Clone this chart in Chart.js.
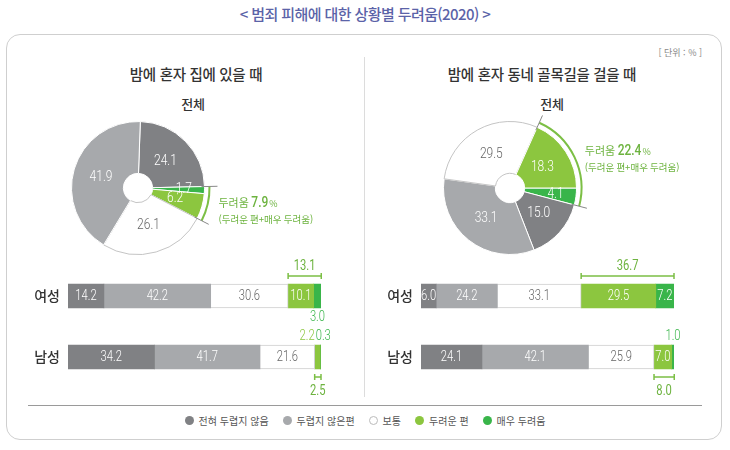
<!DOCTYPE html>
<html lang="ko">
<head>
<meta charset="UTF-8" />
<title>범죄 피해에 대한 상황별 두려움(2020)</title>
<script src="https://cdn.jsdelivr.net/npm/chart.js@4"></script>
<style>
    body { margin: 0; background: #fff; font-family: 'Noto Sans CJK KR', sans-serif; }
    .wrap { position: relative; width: 730px; height: 450px; overflow: hidden; }
    .title {
        position: absolute; top: 3px; left: 0; width: 730px; text-align: center;
        font-size: 15px; line-height: 22px; color: #5b63a8; letter-spacing: -0.6px; font-weight: 500;
    }
    .panel {
        position: absolute; left: 6px; top: 34px; width: 714px; height: 404px;
        border: 1.5px solid #cfcfcf; border-radius: 14px;
    }
    .divider { position: absolute; left: 364px; top: 57px; width: 1px; height: 340px; background: #dcdcdc; }
    .rule { position: absolute; left: 28px; top: 405px; width: 674px; height: 1px; background: #9a9a9a; }
    .unit { position: absolute; left: 640px; top: 46px; width: 62px; text-align: right; font-size: 9px; line-height: 14px; color: #888; }
    .sub {
        position: absolute; width: 300px; text-align: center; font-size: 14.5px; line-height: 20px;
        color: #333; font-weight: 500; letter-spacing: -0.3px;
    }
    .sub.all { font-size: 13px; font-weight: 500; }
    canvas { position: absolute; }
    .legend {
        position: absolute; left: 0; top: 412px; width: 730px; height: 16px;
        display: flex; justify-content: center; align-items: center; gap: 14px;
        font-size: 10px; color: #555;
    }
    .legend span { display: flex; align-items: center; }
    .legend i { display: inline-block; width: 9px; height: 9px; border-radius: 50%; margin-right: 5px; box-sizing: border-box; }
</style>
</head>
<body>
<div class="wrap">
    <div class="title">&lt; 범죄 피해에 대한 상황별 두려움(2020) &gt;</div>
    <div class="panel"></div>
    <div class="divider"></div>
    <div class="rule"></div>
    <div class="unit">[ 단위 : % ]</div>

    <div class="sub" style="left:46px; top:64px;">밤에 혼자 집에 있을 때</div>
    <div class="sub all" style="left:43px; top:94px;">전체</div>
    <div class="sub" style="left:392px; top:64px;">밤에 혼자 동네 골목길을 걸을 때</div>
    <div class="sub all" style="left:402px; top:94px;">전체</div>

    <canvas id="pieHome" width="320" height="170" style="left:40px; top:100px;"></canvas>
    <canvas id="pieStreet" width="320" height="170" style="left:400px; top:100px;"></canvas>
    <canvas id="barHome" width="340" height="145" style="left:20px; top:255px;"></canvas>
    <canvas id="barStreet" width="350" height="145" style="left:370px; top:255px;"></canvas>

    <div class="legend" id="legend"></div>
</div>

<script>
    // categories (answer scale) and colours
    const categories = ['전혀 두렵지 않음', '두렵지 않은편', '보통', '두려운 편', '매우 두려움'];
    const colors = ['#808184', '#a7a9ac', '#ffffff', '#8cc63f', '#39b54a'];
    const groups = ['여성', '남성'];

    // 전체 values, in category order
    const homeTotal = [24.1, 41.9, 26.1, 6.2, 1.7];
    const streetTotal = [15.0, 33.1, 29.5, 18.3, 4.1];

    // by sex, in category order
    const homeFemale = [14.2, 42.2, 30.6, 10.1, 3.0];
    const homeMale = [34.2, 41.7, 21.6, 2.2, 0.3];
    const streetFemale = [6.0, 24.2, 33.1, 29.5, 7.2];
    const streetMale = [24.1, 42.1, 25.9, 7.0, 1.0];

    const green = '#6db33f';
    const krFont = (size, weight) => `${weight || 400} ${size}px "Noto Sans CJK KR", sans-serif`;

    // condensed numbers: Roboto squeezed horizontally
    function drawNum(ctx, text, x, y, align, size, weight) {
        ctx.save();
        ctx.font = `${weight || 300} ${size || 14}px Roboto, sans-serif`;
        ctx.textAlign = align || 'center';
        ctx.translate(x, y);
        ctx.scale(0.8, 1);
        ctx.fillText(text, 0, 0);
        const w = ctx.measureText(text).width * 0.8;
        ctx.restore();
        return w;
    }

    // slice labels + green bracket with the 두려움 total
    const pieNote = {
        id: 'pieNote',
        afterDatasetsDraw(chart) {
            const ctx = chart.ctx;
            const ds = chart.data.datasets[0];
            const cats = ds.cats;
            const arcs = chart.getDatasetMeta(0).data.map(a =>
                a.getProps(['x', 'y', 'startAngle', 'endAngle', 'innerRadius', 'outerRadius'], true));
            const n = arcs.length;

            ctx.save();
            ctx.textBaseline = 'middle';
            arcs.forEach((a, i) => {
                const mid = (a.startAngle + a.endAngle) / 2;
                const rr = a.outerRadius * (ds.data[i] < 5 ? 0.69 : 0.58);
                ctx.fillStyle = cats[i] === 2 ? '#666' : '#fff';
                drawNum(ctx, ds.data[i].toFixed(1), a.x + Math.cos(mid) * rr, a.y + Math.sin(mid) * rr, 'center', 15);
            });

            const isG = i => cats[(i + n) % n] >= 3;
            let s = 0, e = 0, total = 0;
            arcs.forEach((a, i) => {
                if (!isG(i)) return;
                total += ds.data[i];
                if (!isG(i - 1)) s = a.startAngle;
                if (!isG(i + 1)) e = a.endAngle;
            });
            if (e < s) e += Math.PI * 2;
            const cx = arcs[0].x, cy = arcs[0].y, R = arcs[0].outerRadius;

            ctx.strokeStyle = '#7cbf45';
            ctx.lineWidth = 2;
            ctx.beginPath();
            ctx.arc(cx, cy, R + 5, s, e);
            ctx.stroke();

            ctx.strokeStyle = '#888';
            ctx.lineWidth = 1;
            [s, e].forEach(t => {
                ctx.beginPath();
                ctx.moveTo(cx + Math.cos(t) * (R - 3), cy + Math.sin(t) * (R - 3));
                ctx.lineTo(cx + Math.cos(t) * (R + 13), cy + Math.sin(t) * (R + 13));
                ctx.stroke();
            });

            const mid = (s + e) / 2;
            const px = cx + Math.cos(mid) * (R + 12) + 4;
            const py = cy + Math.sin(mid) * (R + 12);
            ctx.textAlign = 'left';
            ctx.textBaseline = 'alphabetic';
            ctx.fillStyle = green;
            let x = px;
            ctx.font = krFont(11);
            ctx.fillText('두려움 ', x, py + 1);
            x += ctx.measureText('두려움 ').width;
            x += drawNum(ctx, total.toFixed(1), x, py + 1, 'left', 15, 500);
            ctx.font = krFont(9);
            ctx.fillText('%', x + 1, py + 1);
            ctx.font = krFont(9.5);
            ctx.fillText('(두려운 편+매우 두려움)', px, py + 17);
            ctx.restore();
        }
    };

    // row labels, in-bar values, small values and green brackets
    const barNote = {
        id: 'barNote',
        afterDatasetsDraw(chart) {
            const ctx = chart.ctx, area = chart.chartArea;
            const sets = chart.data.datasets;
            ctx.save();
            chart.data.labels.forEach((lab, i) => {
                const bars = sets.map((d, k) =>
                    chart.getDatasetMeta(k).data[i].getProps(['x', 'y', 'base', 'height'], true));
                const yc = bars[0].y, top = yc - bars[0].height / 2, bot = yc + bars[0].height / 2;
                const above = i === 0;

                ctx.font = krFont(14, 500);
                ctx.fillStyle = '#333';
                ctx.textAlign = 'right';
                ctx.textBaseline = 'middle';
                ctx.fillText(lab, area.left - 8, yc);

                const small = [];
                sets.forEach((d, k) => {
                    const v = d.data[i];
                    if (v < 5) { small.push(k); return; }
                    ctx.fillStyle = k === 2 ? '#666' : '#fff';
                    drawNum(ctx, v.toFixed(1), (bars[k].x + bars[k].base) / 2, yc, 'center', 14);
                });

                const sy = above ? bot + 9 : top - 9;
                if (small.length === 1) {
                    const k = small[0];
                    ctx.fillStyle = sets[k].backgroundColor;
                    drawNum(ctx, sets[k].data[i].toFixed(1), (bars[k].x + bars[k].base) / 2, sy, 'center', 14);
                } else if (small.length > 1) {
                    const joint = bars[small[0]].base;
                    ctx.fillStyle = sets[small[0]].backgroundColor;
                    drawNum(ctx, sets[small[0]].data[i].toFixed(1), joint, sy, 'right', 14);
                    ctx.fillStyle = sets[small[1]].backgroundColor;
                    drawNum(ctx, sets[small[1]].data[i].toFixed(1), joint + 1, sy, 'left', 14);
                }

                const x0 = bars[3].base, x1 = bars[4].x;
                const total = sets[3].data[i] + sets[4].data[i];
                const by = above ? top - 8 : bot + 8;
                ctx.strokeStyle = '#7cbf45';
                ctx.lineWidth = 1.5;
                ctx.beginPath();
                ctx.moveTo(x0, by); ctx.lineTo(x1, by);
                ctx.moveTo(x0, by - 3); ctx.lineTo(x0, by + 3);
                ctx.moveTo(x1, by - 3); ctx.lineTo(x1, by + 3);
                ctx.stroke();
                ctx.fillStyle = green;
                drawNum(ctx, total.toFixed(1), (x0 + x1) / 2, above ? by - 10 : by + 14, 'center', 14, 400);
            });
            ctx.restore();
        }
    };

    function makePie(id, values, order, rotation, pad) {
        return new Chart(document.getElementById(id), {
            type: 'doughnut',
            data: {
                labels: order.map(c => categories[c]),
                datasets: [{
                    data: order.map(c => values[c]),
                    cats: order,
                    backgroundColor: order.map(c => colors[c]),
                    borderColor: order.map(c => c === 2 ? '#c4c4c4' : '#ffffff'),
                    borderWidth: 1
                }]
            },
            options: {
                responsive: false,
                animation: false,
                events: [],
                rotation: rotation,
                cutout: '22%',
                layout: { padding: pad },
                plugins: { legend: { display: false }, tooltip: { enabled: false } }
            },
            plugins: [pieNote]
        });
    }

    function makeBars(id, female, male, pad) {
        return new Chart(document.getElementById(id), {
            type: 'bar',
            data: {
                labels: groups,
                datasets: categories.map((c, k) => ({
                    label: c,
                    data: [female[k], male[k]],
                    backgroundColor: colors[k],
                    borderColor: '#cfcfcf',
                    borderWidth: k === 2 ? 1 : 0,
                    barThickness: 24
                }))
            },
            options: {
                indexAxis: 'y',
                responsive: false,
                animation: false,
                events: [],
                layout: { padding: pad },
                scales: {
                    x: { stacked: true, min: 0, max: 100, display: false },
                    y: { stacked: true, display: false }
                },
                plugins: { legend: { display: false }, tooltip: { enabled: false } }
            },
            plugins: [barNote]
        });
    }

    // slice order as drawn clockwise in the original
    makePie('pieHome', homeTotal, [0, 4, 3, 2, 1], 2, { left: 31, top: 21, right: 155, bottom: 15 });
    makePie('pieStreet', streetTotal, [4, 0, 1, 2, 3], 90, { left: 43, top: 21, right: 143, bottom: 15 });
    makeBars('barHome', homeFemale, homeMale, { left: 48, right: 39, top: 10.5, bottom: 12.5 });
    makeBars('barStreet', streetFemale, streetMale, { left: 51, right: 46, top: 10.5, bottom: 12.5 });

    // legend
    document.getElementById('legend').innerHTML = categories.map((c, k) =>
        `<span><i style="background:${colors[k]};${k === 2 ? 'border:1px solid #bbb;' : ''}"></i>${c}</span>`
    ).join('');
</script>
</body>
</html>
